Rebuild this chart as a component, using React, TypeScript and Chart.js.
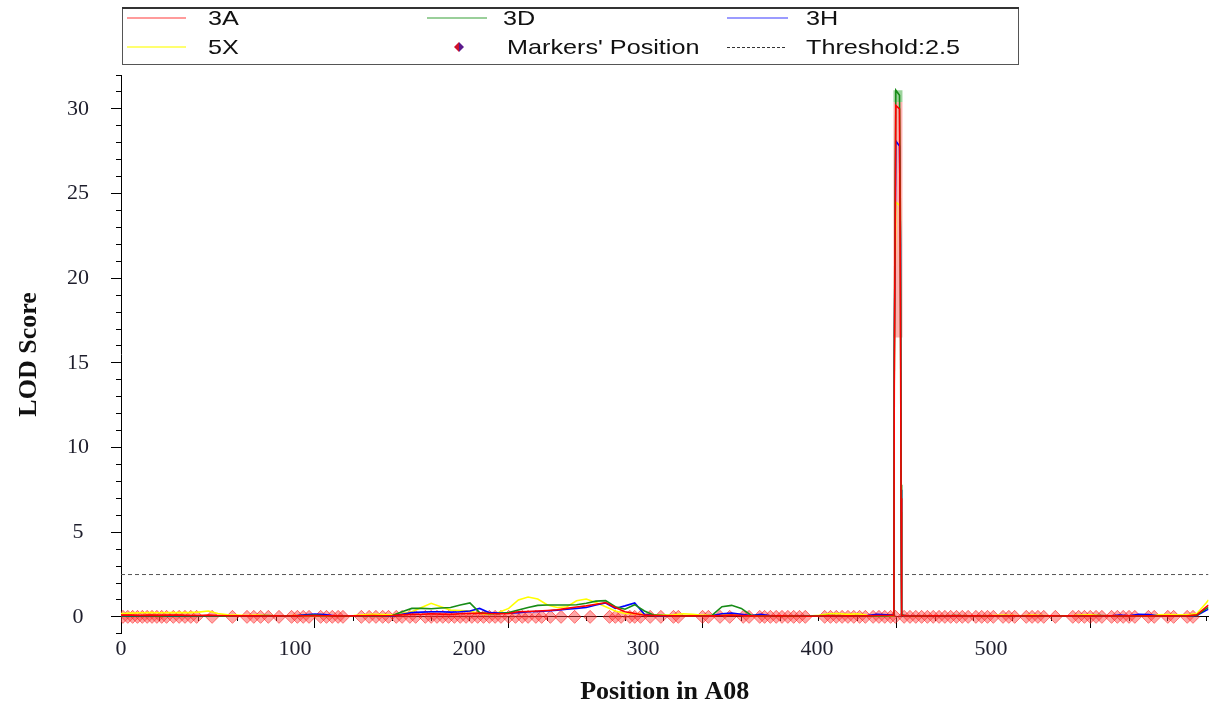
import React, { useEffect, useRef } from 'react';
import { Chart, registerables } from 'chart.js';

Chart.register(...registerables);

// ---------- DATA ----------
const positions = [
  0, 5, 10, 15, 20, 25, 30, 35, 40, 45,
  50, 55, 60, 65, 70, 75, 80, 85, 90, 95,
  100, 105, 110, 115, 120, 125, 130, 135, 140, 145,
  150, 155, 160, 165, 170, 175, 180, 185, 190, 195,
  200, 205, 210, 215, 220, 225, 230, 235, 240, 245,
  250, 255, 260, 265, 270, 275, 280, 285, 290, 295,
  300, 305, 310, 315, 320, 325, 330, 335, 340, 345,
  350, 355, 360, 365, 370, 375, 380, 385, 390, 395,
  398.7, 398.9, 399.7, 401.6, 402.1, 402.4, 402.7,
  405, 410, 415, 420, 425, 430, 435, 440, 445, 450,
  455, 460, 465, 470, 475, 480, 485, 490, 495, 500,
  505, 510, 515, 520, 525, 530, 535, 540, 545, 550,
  555, 560, 561,
];

const lod3A = [
  0.1, 0.1, 0.08, 0.1, 0.09, 0.1, 0.1, 0.08, 0.08, 0.1,
  0.08, 0.07, 0.06, 0.07, 0.06, 0.05, 0.06, 0.05, 0.06, 0.07,
  0.08, 0.07, 0.06, 0.05, 0.06, 0.07, 0.08, 0.07, 0.08, 0.12,
  0.15, 0.15, 0.18, 0.16, 0.15, 0.18, 0.2, 0.22, 0.2, 0.18,
  0.2, 0.3, 0.32, 0.35, 0.38, 0.42, 0.5, 0.58, 0.65, 0.75,
  0.85, 0.55, 0.3, 0.2, 0.1, 0.08, 0.07, 0.06, 0.05, 0.06,
  0.05, 0.06, 0.08, 0.1, 0.08, 0.06, 0.05, 0.05, 0.06, 0.05,
  0.05, 0.04, 0.05, 0.06, 0.05, 0.06, 0.05, 0.06, 0.08, 0.08,
  0.1, 13.5, 30.2, 30.0, 18.3, 7.0, 0.1,
  0.06, 0.05, 0.05, 0.06, 0.05, 0.06, 0.05, 0.06, 0.05, 0.06,
  0.05, 0.06, 0.05, 0.06, 0.05, 0.06, 0.05, 0.06, 0.05, 0.06,
  0.05, 0.06, 0.05, 0.06, 0.05, 0.06, 0.05, 0.06, 0.05, 0.06,
  0.12, 0.6, 0.7,
];

const lod3D = [
  0.05, 0.05, 0.06, 0.05, 0.04, 0.05, 0.06, 0.05, 0.05, 0.06,
  0.05, 0.04, 0.05, 0.06, 0.07, 0.08, 0.06, 0.05, 0.06, 0.08,
  0.1, 0.07, 0.05, 0.04, 0.05, 0.06, 0.07, 0.06, 0.08, 0.3,
  0.5, 0.5, 0.48, 0.52, 0.55, 0.7, 0.82, 0.25, 0.18, 0.2,
  0.25, 0.4, 0.55, 0.68, 0.7, 0.7, 0.7, 0.72, 0.8, 0.93,
  0.96, 0.6, 0.45, 0.72, 0.35, 0.1, 0.08, 0.06, 0.05, 0.06,
  0.05, 0.1, 0.6, 0.68, 0.5, 0.1, 0.06, 0.05, 0.04, 0.05,
  0.04, 0.05, 0.06, 0.08, 0.07, 0.06, 0.05, 0.06, 0.05, 0.06,
  0.1, 15.8, 31.1, 30.8, 22.8, 7.8, 0.12,
  0.05, 0.04, 0.05, 0.06, 0.05, 0.08, 0.06, 0.05, 0.04, 0.06,
  0.05, 0.05, 0.06, 0.05, 0.04, 0.05, 0.06, 0.05, 0.05, 0.06,
  0.08, 0.06, 0.05, 0.05, 0.06, 0.05, 0.06, 0.05, 0.06, 0.05,
  0.1, 0.5, 0.55,
];

const lod3H = [
  0.05, 0.04, 0.05, 0.06, 0.05, 0.04, 0.05, 0.06, 0.05, 0.07,
  0.06, 0.05, 0.04, 0.06, 0.05, 0.07, 0.05, 0.04, 0.06, 0.12,
  0.16, 0.14, 0.06, 0.05, 0.04, 0.05, 0.06, 0.05, 0.06, 0.15,
  0.25, 0.28, 0.3, 0.3, 0.28, 0.3, 0.35, 0.5, 0.25, 0.22,
  0.22, 0.25, 0.3, 0.32, 0.35, 0.4, 0.45, 0.5, 0.55, 0.7,
  0.82, 0.5, 0.65, 0.82, 0.15, 0.08, 0.06, 0.05, 0.06, 0.05,
  0.06, 0.08, 0.18, 0.22, 0.15, 0.08, 0.15, 0.06, 0.05, 0.04,
  0.05, 0.04, 0.05, 0.06, 0.05, 0.06, 0.05, 0.08, 0.15, 0.12,
  0.1, 15.2, 28.1, 27.8, 22.0, 7.5, 0.1,
  0.06, 0.05, 0.04, 0.05, 0.04, 0.05, 0.06, 0.05, 0.04, 0.05,
  0.06, 0.05, 0.04, 0.05, 0.06, 0.05, 0.04, 0.05, 0.06, 0.05,
  0.06, 0.05, 0.1, 0.06, 0.15, 0.14, 0.06, 0.05, 0.04, 0.05,
  0.08, 0.4, 0.45,
];

const lod5X = [
  0.2, 0.22, 0.24, 0.25, 0.24, 0.25, 0.26, 0.25, 0.28, 0.35,
  0.2, 0.12, 0.1, 0.08, 0.1, 0.08, 0.07, 0.06, 0.08, 0.07,
  0.08, 0.06, 0.05, 0.06, 0.08, 0.12, 0.15, 0.14, 0.12, 0.2,
  0.3, 0.55, 0.8, 0.6, 0.4, 0.38, 0.35, 0.2, 0.15, 0.27,
  0.5, 1.0, 1.17, 1.05, 0.7, 0.55, 0.6, 0.95, 1.05, 0.85,
  0.6, 0.35, 0.2, 0.18, 0.15, 0.12, 0.1, 0.12, 0.18, 0.15,
  0.1, 0.08, 0.12, 0.15, 0.1, 0.08, 0.06, 0.05, 0.06, 0.05,
  0.04, 0.05, 0.1, 0.18, 0.2, 0.15, 0.18, 0.1, 0.06, 0.05,
  0.08, 14.0, 24.5, 24.3, 19.5, 6.2, 0.1,
  0.05, 0.05, 0.04, 0.05, 0.06, 0.05, 0.05, 0.06, 0.05, 0.08,
  0.1, 0.08, 0.06, 0.1, 0.08, 0.06, 0.05, 0.06, 0.1, 0.12,
  0.08, 0.06, 0.07, 0.06, 0.08, 0.05, 0.12, 0.13, 0.12, 0.12,
  0.2, 0.85, 1.0,
];

const markerPositions = [
  1, 3.5, 6, 8.5, 11, 13.5, 16, 18.5, 21, 23.5, 27, 30, 33, 36, 39, 47, 57.5,
  65, 68.5, 72, 76, 81.5, 88, 91, 94, 97, 103, 106, 109, 112, 114.5,
  124, 128, 131.5, 135, 138, 142, 145, 149, 152, 157, 160, 163, 166, 169,
  172, 175, 178, 181, 184, 187, 190, 193, 196, 200, 203.5, 207, 210, 214,
  217, 221.5, 227, 234, 242, 252, 255, 258, 262.5, 265, 268, 273, 278.5,
  285, 287.5, 300, 303, 309, 314, 321, 324, 329.5, 332, 335, 338, 341, 344,
  347, 350, 353, 363, 366, 369, 372, 375, 378, 381, 384, 388, 391, 394, 397,
  399.5, 404, 407, 410, 413, 416, 419, 422, 425, 428, 431, 434, 437, 441,
  444, 447, 450, 455, 458, 461, 467, 470, 473, 476, 482, 491, 494, 497, 500,
  503, 506, 511, 514, 517, 520, 523, 530, 533, 540, 543, 550, 553,
];

const threshold = 2.5;
const peakBandPos = 400.8;
const peakBandLow = 16.5;
const peakBandMid = 30.4;
const peakBandHigh = 31.1;

const xMin = 0;
const xMax = 561;
const xLabelMax = 625; // tick-label scale printed under the axis in the source figure
const xTickLabels = [0, 100, 200, 300, 400, 500];
const yMin = -1;
const yMax = 32;
const xMajorStep = 100;
const xMinorStep = 20;
const yMajorStep = 5;
const yMinorStep = 1;

const seriesNames = ['3A', '3D', '3H', '5X'];
const markerLabel = "Markers' Position";
const thresholdLabel = 'Threshold:2.5';
const xTitle = 'Position in A08';
const yTitle = 'LOD Score';

// ---------- STYLES ----------
const lineColors = ['#ff0000', '#178c17', '#0000ff', '#ffff00'];
const legendLineColors = ['#ff7a7a', '#78bf78', '#7a7aff', '#ffff40'];
const serif = "'Liberation Serif', 'Times New Roman', serif";
const sans = "'Liberation Sans', Arial, sans-serif";
const tickColor = '#1d1d2b';

const legendTextStyle: React.CSSProperties = {
  position: 'absolute',
  fontFamily: sans,
  fontSize: 21,
  lineHeight: '25px',
  color: '#111',
  whiteSpace: 'nowrap',
  transform: 'scaleX(1.2)',
  transformOrigin: 'left center',
};

export default function App() {
  const canvasRef = useRef<HTMLCanvasElement>(null);

  useEffect(() => {
    const canvas = canvasRef.current;
    if (!canvas) return;
    const pts = (arr: number[]) => positions.map((x, i) => ({ x, y: arr[i] }));
    const series = [lod3A, lod3D, lod3H, lod5X];

    const lineSets: any[] = series.map((arr, i) => ({
      label: seriesNames[i],
      data: pts(arr),
      borderColor: lineColors[i],
      borderWidth: 1.6,
      pointRadius: 0,
      order: i,
    }));

    const chart = new Chart(canvas, {
      type: 'line',
      data: {
        datasets: [
          ...lineSets,
          {
            label: 'peak band',
            data: [
              { x: peakBandPos, y: peakBandLow },
              { x: peakBandPos, y: peakBandMid },
            ],
            borderColor: 'rgba(255,165,165,0.85)',
            borderWidth: 9,
            pointRadius: 0,
            order: 4,
          },
          {
            label: 'peak band top',
            data: [
              { x: peakBandPos, y: peakBandMid },
              { x: peakBandPos, y: peakBandHigh },
            ],
            borderColor: 'rgba(140,205,140,0.85)',
            borderWidth: 9,
            pointRadius: 0,
            order: 4,
          },
          {
            label: thresholdLabel,
            data: [
              { x: xMin, y: threshold },
              { x: xMax, y: threshold },
            ],
            borderColor: '#555',
            borderWidth: 1,
            borderDash: [4, 3],
            pointRadius: 0,
            order: 5,
          },
          {
            label: markerLabel,
            data: markerPositions.map((x) => ({ x, y: 0 })),
            showLine: false,
            pointStyle: 'rectRot',
            pointRadius: 6.5,
            pointBackgroundColor: 'rgba(255,60,60,0.45)',
            pointBorderColor: 'rgba(255,0,0,0.5)',
            pointBorderWidth: 1,
            order: 6,
          },
        ],
      },
      options: {
        animation: false,
        responsive: false,
        devicePixelRatio: 1,
        layout: { padding: { left: 0, right: 4, top: 75, bottom: 0 } },
        plugins: {
          legend: { display: false },
          tooltip: { enabled: false },
          title: {
            display: true,
            position: 'bottom',
            fullSize: false,
            text: xTitle,
            color: '#111',
            font: { family: serif, size: 26, weight: 'bold' },
            padding: { top: 43, bottom: 3 },
          },
        },
        scales: {
          x: {
            type: 'linear',
            position: { y: 0 } as any,
            min: xMin,
            max: xMax,
            z: 1,
            border: { display: true, color: '#000', width: 1 },
            grid: { display: true, drawOnChartArea: false, drawTicks: true, tickLength: 11, color: '#000' },
            ticks: { display: false, stepSize: xMajorStep, includeBounds: false },
          },
          xMinor: {
            type: 'linear',
            axis: 'x',
            position: { y: 0 } as any,
            min: xMin,
            max: xMax,
            z: 1,
            border: { display: false },
            grid: { display: true, drawOnChartArea: false, drawTicks: true, tickLength: 4, color: '#000' },
            ticks: { display: false, stepSize: xMinorStep, includeBounds: false },
          },
          xLabels: {
            type: 'linear',
            axis: 'x',
            position: { y: 0 } as any,
            min: xMin,
            max: xLabelMax,
            z: 1,
            border: { display: false },
            grid: { display: true, drawOnChartArea: false, drawTicks: true, tickLength: 11, color: 'rgba(0,0,0,0)' },
            afterBuildTicks: (scale: any) => {
              scale.ticks = xTickLabels.map((value) => ({ value }));
            },
            ticks: {
              autoSkip: false,
              maxRotation: 0,
              padding: 8,
              color: tickColor,
              font: { family: serif, size: 22 },
            },
          },
          y: {
            type: 'linear',
            position: 'left',
            min: yMin,
            max: yMax,
            border: { display: true, color: '#000', width: 1 },
            grid: { display: true, drawOnChartArea: false, drawTicks: true, tickLength: 10, color: '#000' },
            ticks: {
              stepSize: yMajorStep,
              includeBounds: false,
              crossAlign: 'center',
              padding: 22,
              color: tickColor,
              font: { family: serif, size: 22 },
            },
            title: {
              display: true,
              text: yTitle,
              color: '#111',
              font: { family: serif, size: 26, weight: 'bold' },
              padding: { top: 14, bottom: 0 },
            },
            afterFit: (scale: any) => {
              scale.width = 121;
            },
          },
          yMinor: {
            type: 'linear',
            axis: 'y',
            position: { x: 0 } as any,
            min: yMin,
            max: yMax,
            border: { display: false },
            grid: { display: true, drawOnChartArea: false, drawTicks: true, tickLength: 5, color: '#000' },
            ticks: { display: false, stepSize: yMinorStep },
          },
        },
      } as any,
    });

    return () => chart.destroy();
  }, []);

  return (
    <div
      style={{
        position: 'absolute',
        left: 0,
        top: 0,
        width: 1216,
        height: 711,
        background: '#fff',
        overflow: 'hidden',
      }}
    >
      <canvas
        ref={canvasRef}
        width={1216}
        height={711}
        style={{ position: 'absolute', left: 0, top: 0, width: 1216, height: 711 }}
      />
      <svg
        width={1216}
        height={70}
        style={{ position: 'absolute', left: 0, top: 0, pointerEvents: 'none' }}
      >
        <rect x={122.5} y={8.5} width={896} height={56} fill="none" stroke="#555" strokeWidth={1} />
        <line x1={122} y1={8} x2={1019} y2={8} stroke="#333" strokeWidth={2} />
        <line x1={127} y1={18} x2={186} y2={18} stroke={legendLineColors[0]} strokeWidth={1.6} />
        <line x1={427} y1={18} x2={487} y2={18} stroke={legendLineColors[1]} strokeWidth={1.6} />
        <line x1={727} y1={18} x2={788} y2={18} stroke={legendLineColors[2]} strokeWidth={1.6} />
        <line x1={127} y1={47} x2={186} y2={47} stroke={legendLineColors[3]} strokeWidth={1.6} />
        <line x1={727} y1={47.5} x2={786} y2={47.5} stroke="#333" strokeWidth={1} strokeDasharray="3 2" />
        <polygon points="459,42 454,47 459,52" fill="#d0102a" />
        <polygon points="459,42 464,47 459,52" fill="#5b1a8c" />
      </svg>
      <span style={{ ...legendTextStyle, left: 208, top: 5 }}>{seriesNames[0]}</span>
      <span style={{ ...legendTextStyle, left: 503, top: 5 }}>{seriesNames[1]}</span>
      <span style={{ ...legendTextStyle, left: 806, top: 5 }}>{seriesNames[2]}</span>
      <span style={{ ...legendTextStyle, left: 208, top: 34 }}>{seriesNames[3]}</span>
      <span style={{ ...legendTextStyle, left: 507, top: 34 }}>{markerLabel}</span>
      <span style={{ ...legendTextStyle, left: 806, top: 34 }}>{thresholdLabel}</span>
    </div>
  );
}
